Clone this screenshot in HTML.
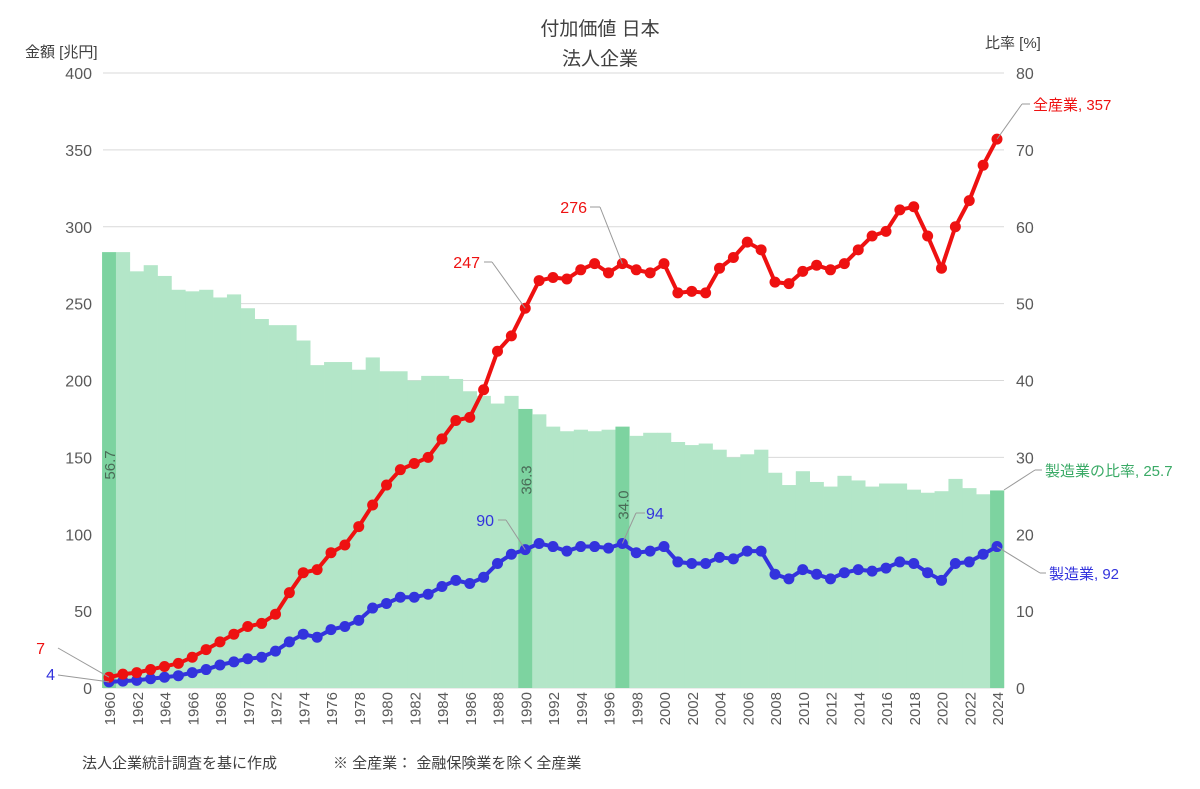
<!DOCTYPE html>
<html><head><meta charset="utf-8">
<style>
body{margin:0;background:#fff;}
svg text{font-family:"Liberation Sans","Noto Sans CJK JP",sans-serif;}
</style></head>
<body>
<svg id="c" width="1200" height="784" xmlns="http://www.w3.org/2000/svg"></svg>
<script>
const bars=[56.7,56.7,54.2,55,53.6,51.8,51.6,51.8,50.8,51.2,49.4,48,47.2,47.2,45.2,42,42.4,42.4,41.4,43,41.2,41.2,40,40.6,40.6,40.2,38.6,38,37,38,36.3,35.6,34,33.4,33.6,33.4,33.6,34.0,32.8,33.2,33.2,32,31.6,31.8,31,30,30.4,31,28,26.4,28.2,26.8,26.2,27.6,27,26.2,26.6,26.6,25.8,25.4,25.6,27.2,26,25.2,25.7];
const red=[7,9,10,12,14,16,20,25,30,35,40,42,48,62,75,77,88,93,105,119,132,142,146,150,162,174,176,194,219,229,247,265,267,266,272,276,270,276,272,270,276,257,258,257,273,280,290,285,264,263,271,275,272,276,285,294,297,311,313,294,273,300,317,340,357];
const blue=[4,4.5,5,6,7,8,10,12,15,17,19,20,24,30,35,33,38,40,44,52,55,59,59,61,66,70,68,72,81,87,90,94,92,89,92,92,91,94,88,89,92,82,81,81,85,84,89,89,74,71,77,74,71,75,77,76,78,82,81,75,70,81,82,87,92];
const X0=109,DX=13.875,Y0=688,K=615/400;
const x=i=>X0+i*DX, y=v=>Y0-v*K, yr=v=>Y0-v*K*5;
let s='';
// grid
for(let v=0;v<=400;v+=50){s+=`<line x1="103" x2="1004" y1="${y(v)}" y2="${y(v)}" stroke="#d9d9d9" stroke-width="1"/>`;
s+=`<text x="92" y="${y(v)+6}" font-size="16" fill="#595959" text-anchor="end">${v}</text>`;
s+=`<text x="1016" y="${y(v)+6}" font-size="16" fill="#595959">${v/5}</text>`;}
// bars
const hi=[0,30,37,64];
bars.forEach((b,i)=>{const h=hi.includes(i);s+=`<rect x="${x(i)-DX/2}" y="${yr(b)}" width="${DX+0.3}" height="${Y0-yr(b)}" fill="${h?'#7dd3a0':'#b3e6c8'}"/>`;});
// bar labels
[[0,'56.7',465],[30,'36.3',480],[37,'34.0',505]].forEach(([i,t,yy])=>{s+=`<text transform="translate(${x(i)+6},${yy}) rotate(-90)" font-size="15" fill="#4a6b57" text-anchor="middle">${t}</text>`;});
// lines
const pl=(d,c)=>{s+=`<polyline points="${d.map((v,i)=>x(i)+','+y(v)).join(' ')}" fill="none" stroke="${c}" stroke-width="4"/>`;d.forEach((v,i)=>s+=`<circle cx="${x(i)}" cy="${y(v)}" r="5.5" fill="${c}"/>`);};
pl(blue,'#3333dd');pl(red,'#ee1111');
// x labels
for(let i=0;i<65;i+=2){s+=`<text transform="translate(${x(i)+6},692) rotate(-90)" font-size="15" fill="#595959" text-anchor="end">${1960+i}</text>`;}
// annotations
const ann=(x1,y1,x2,y2)=>s+=`<polyline points="${x1},${y1} ${x2},${y2}" fill="none" stroke="#999" stroke-width="1"/>`;
ann(58,648,x(0),y(7));ann(58,675,x(0),y(4));
ann(484,262,492,262);ann(492,262,x(30),y(247));
ann(590,207,600,207);ann(600,207,x(37),y(276));
ann(498,520,506,520);ann(506,520,x(30),y(90));
ann(645,513,636,513);ann(636,513,x(37),y(94));
ann(x(64),y(357),1022,104);ann(1022,104,1030,104);
ann(x(64),y(92),1040,573);ann(1040,573,1046,573);
ann(1004,490,1035,470);ann(1035,470,1042,470);
s+=`<text x="45" y="654" font-size="16" fill="#ee1111" text-anchor="end">7</text>`;
s+=`<text x="55" y="680" font-size="16" fill="#3333dd" text-anchor="end">4</text>`;
s+=`<text x="480" y="268" font-size="16" fill="#ee1111" text-anchor="end">247</text>`;
s+=`<text x="587" y="213" font-size="16" fill="#ee1111" text-anchor="end">276</text>`;
s+=`<text x="494" y="526" font-size="16" fill="#3333dd" text-anchor="end">90</text>`;
s+=`<text x="646" y="519" font-size="16" fill="#3333dd">94</text>`;
s+=`<text x="1033" y="110" font-size="15" fill="#ee1111">全産業, 357</text>`;
s+=`<text x="1049" y="579" font-size="15" fill="#3333dd">製造業, 92</text>`;
s+=`<text x="1045" y="476" font-size="15" fill="#3aaa66">製造業の比率, 25.7</text>`;
// titles
s+=`<text x="600" y="35" font-size="19" fill="#404040" text-anchor="middle">付加価値 日本</text>`;
s+=`<text x="600" y="65" font-size="19" fill="#404040" text-anchor="middle">法人企業</text>`;
s+=`<text x="25" y="57" font-size="15" fill="#404040">金額 [兆円]</text>`;
s+=`<text x="985" y="48" font-size="15" fill="#404040">比率 [%]</text>`;
s+=`<text x="82" y="768" font-size="15" fill="#404040">法人企業統計調査を基に作成</text>`;
s+=`<text x="333" y="768" font-size="15" fill="#404040">※ 全産業： 金融保険業を除く全産業</text>`;
document.getElementById('c').innerHTML=s;
</script>
</body></html>
